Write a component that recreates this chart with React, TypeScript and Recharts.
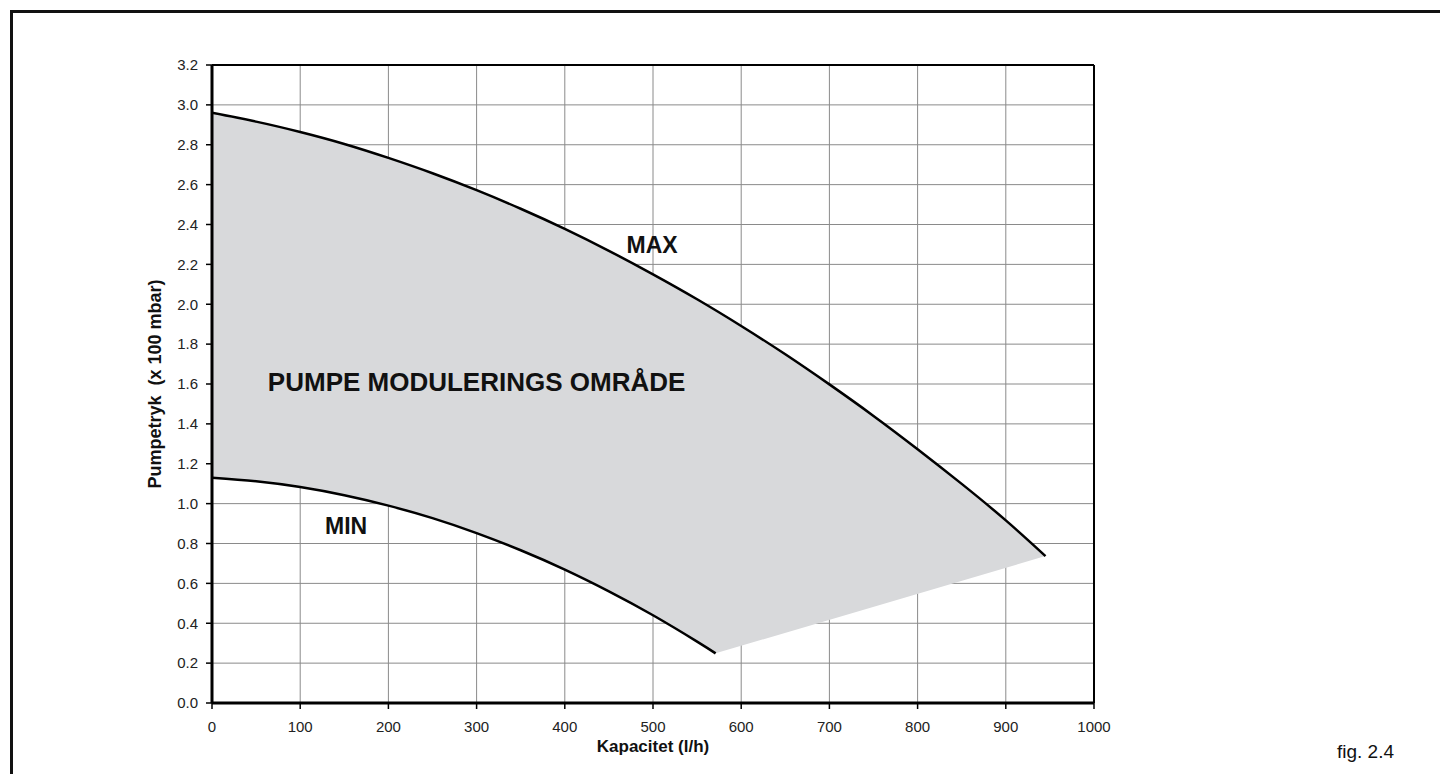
import React from 'react';
import {
  ComposedChart,
  Area,
  Line,
  XAxis,
  YAxis,
  CartesianGrid,
  ReferenceLine,
  ReferenceDot,
} from 'recharts';

// capacity (l/h) and pump pressure (x 100 mbar)
const maxFlow = [0, 50, 100, 150, 200, 250, 300, 350, 400, 450, 500, 550, 600, 650, 700, 750, 800, 850, 900, 945];
const maxHead = [
  2.96, 2.916, 2.864, 2.804, 2.734, 2.657, 2.572, 2.479, 2.378, 2.268, 2.15, 2.025, 1.891, 1.749, 1.598, 1.44,
  1.273, 1.099, 0.916, 0.737,
];

const minFlow = [0, 50, 100, 150, 200, 250, 300, 350, 400, 450, 500, 550, 571];
const minHead = [1.13, 1.112, 1.083, 1.042, 0.99, 0.927, 0.852, 0.766, 0.669, 0.56, 0.44, 0.308, 0.249];

const xTicks = [0, 100, 200, 300, 400, 500, 600, 700, 800, 900, 1000];
const yTicks = [0, 0.2, 0.4, 0.6, 0.8, 1.0, 1.2, 1.4, 1.6, 1.8, 2.0, 2.2, 2.4, 2.6, 2.8, 3.0, 3.2];

const maxRows = maxFlow.map((q, i) => ({ q, p: maxHead[i] }));
const minRows = minFlow.map((q, i) => ({ q, p: minHead[i] }));
// outline of the shaded range: along MAX, then straight across, then back along MIN
const rangeRows = [...maxRows, ...[...minRows].reverse()];

const font = '"Liberation Sans", Arial, Helvetica, sans-serif';

export default function App() {
  return (
    <div
      style={{
        position: 'fixed',
        left: 0,
        top: 0,
        width: 1440,
        height: 774,
        background: '#fff',
        fontFamily: font,
        overflow: 'hidden',
      }}
    >
      {/* page frame */}
      <div style={{ position: 'absolute', left: 10, top: 10, width: 1430, height: 3, background: '#111' }} />
      <div style={{ position: 'absolute', left: 10, top: 10, width: 3, height: 764, background: '#111' }} />

      <div style={{ position: 'absolute', left: 0, top: 0 }}>
        <ComposedChart width={1440} height={774} margin={{ top: 65, right: 346, bottom: 41, left: 152 }}>
          <Area
            data={rangeRows}
            dataKey="p"
            type="linear"
            stroke="none"
            fill="#d8d9db"
            fillOpacity={1}
            baseValue={0}
            isAnimationActive={false}
          />
          <CartesianGrid stroke="#8a8a8a" strokeWidth={1} horizontalValues={yTicks} verticalValues={xTicks} />
          <XAxis
            type="number"
            dataKey="q"
            domain={[0, 1000]}
            ticks={xTicks}
            interval={0}
            height={30}
            axisLine={{ stroke: '#000', strokeWidth: 3 }}
            tickLine={{ stroke: '#000', strokeWidth: 1.5 }}
            tickSize={6}
            tickMargin={12}
            tick={{ fill: '#222', fontSize: 15, fontFamily: font }}
          />
          <YAxis
            type="number"
            domain={[0, 3.2]}
            ticks={yTicks}
            interval={0}
            width={60}
            axisLine={{ stroke: '#000', strokeWidth: 3 }}
            tickLine={{ stroke: '#000', strokeWidth: 1.5 }}
            tickSize={6}
            tickMargin={8}
            tickFormatter={(v: number) => v.toFixed(1)}
            tick={{ fill: '#222', fontSize: 15, fontFamily: font }}
          />
          <ReferenceLine y={3.2} stroke="#000" strokeWidth={2} />
          <ReferenceLine x={1000} stroke="#000" strokeWidth={2} />
          <Line
            data={maxRows}
            dataKey="p"
            type="natural"
            stroke="#000"
            strokeWidth={2.5}
            dot={false}
            isAnimationActive={false}
          />
          <Line
            data={minRows}
            dataKey="p"
            type="natural"
            stroke="#000"
            strokeWidth={2.5}
            dot={false}
            isAnimationActive={false}
          />
          <ReferenceDot
            x={499}
            y={2.3}
            r={0}
            label={{ value: 'MAX', position: 'center', fill: '#111', fontSize: 23, fontWeight: 'bold', fontFamily: font }}
          />
          <ReferenceDot
            x={300}
            y={1.61}
            r={0}
            label={{
              value: 'PUMPE MODULERINGS OMRÅDE',
              position: 'center',
              fill: '#111',
              fontSize: 26,
              fontWeight: 'bold',
              fontFamily: font,
            }}
          />
          <ReferenceDot
            x={152}
            y={0.89}
            r={0}
            label={{ value: 'MIN', position: 'center', fill: '#111', fontSize: 23, fontWeight: 'bold', fontFamily: font }}
          />
        </ComposedChart>
      </div>

      {/* axis titles */}
      <div
        style={{
          position: 'absolute',
          left: 155,
          top: 384,
          transform: 'translate(-50%, -50%) rotate(-90deg)',
          whiteSpace: 'pre',
          fontWeight: 'bold',
          fontSize: 18,
          color: '#111',
        }}
      >
        {'Pumpetryk  (x 100 mbar)'}
      </div>
      <div
        style={{
          position: 'absolute',
          left: 653,
          top: 747,
          transform: 'translate(-50%, -50%)',
          whiteSpace: 'nowrap',
          fontWeight: 'bold',
          fontSize: 17,
          color: '#111',
        }}
      >
        Kapacitet (l/h)
      </div>
      <div
        style={{
          position: 'absolute',
          left: 1337,
          top: 752,
          transform: 'translateY(-50%)',
          whiteSpace: 'nowrap',
          fontSize: 19,
          color: '#111',
        }}
      >
        fig. 2.4
      </div>
    </div>
  );
}
